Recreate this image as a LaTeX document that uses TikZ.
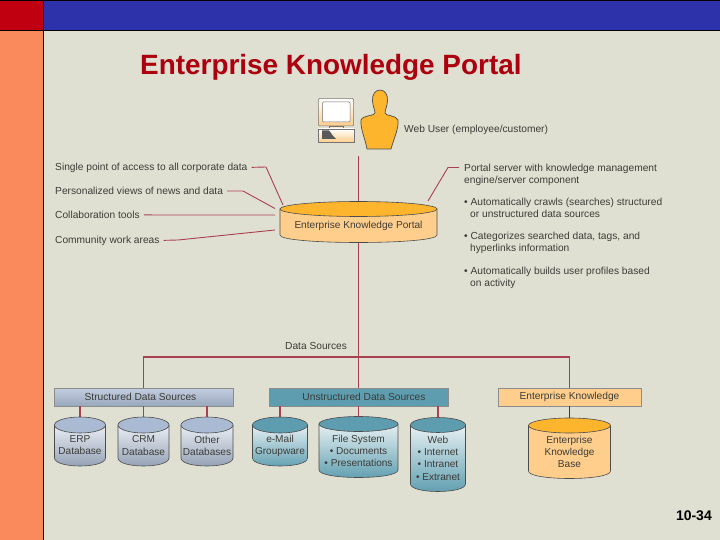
\documentclass[tikz,border=0pt]{standalone}
\usepackage{fontspec}
\setmainfont{Liberation Sans}
\definecolor{slidebg}{HTML}{E0E0D2}
\definecolor{slidered}{HTML}{C00010}
\definecolor{slideblue}{HTML}{2D32AA}
\definecolor{slideorange}{HTML}{FA8A5C}
\definecolor{linkred}{HTML}{A8404F}
\definecolor{inktext}{HTML}{3C3C38}
\definecolor{amber}{HTML}{FDB52E}
\definecolor{peach}{HTML}{FFCE8C}
\definecolor{steelcap}{HTML}{AABAD2}
\definecolor{tealcap}{HTML}{5D9DAF}
\tikzset{
  lbl/.style={anchor=north west,inner sep=0pt,align=left,text=inktext,font=\fontsize{10.2}{12.1}\selectfont},
  cyltext/.style={inner sep=0pt,align=center,text=inktext,font=\fontsize{10.1}{12.1}\selectfont},
  hdr/.style={draw=black!45,line width=0.5pt,inner sep=0pt,minimum height=18pt,text=inktext,font=\fontsize{10.2}{12}\selectfont},
  link/.style={draw=linkred,line width=1.2pt},
  callout/.style={draw=linkred,line width=0.9pt,shorten <=4pt},
  steelside/.style={top color=steelcap!25!white,bottom color=steelcap!85!black},
  tealside/.style={top color=tealcap!15!white,bottom color=tealcap},
  peachside/.style={fill=peach}
}
\newcommand{\dbcyl}[9]{%
  \pgfmathsetmacro{\cylmid}{(#2+#3)/2}
  \pgfmathsetmacro{\cylrad}{(#3-#2)/2}
  \pgfmathsetmacro{\cylbulge}{#5+#6*4/3}
  \pgfmathsetmacro{\cyltext}{(#4+#6+#5)/2}
  \path[#7,draw=black!70,line width=0.6pt] (#2,#4) -- (#2,#5) .. controls (#2,\cylbulge) and (#3,\cylbulge) .. (#3,#5) -- (#3,#4) -- cycle;
  \draw[fill=#8,draw=black!70,line width=0.6pt] (\cylmid,#4) ellipse [x radius=\cylrad pt,y radius=#6 pt];
  \node[cyltext] (#1) at (\cylmid,\cyltext) {#9};
  \coordinate (#1top) at (\cylmid,#4-#6);
  \coordinate (#1bot) at (\cylmid,#5+#6);
}
\begin{document}
\begin{tikzpicture}[x=1pt,y=-1pt]
\useasboundingbox (0,0) rectangle (720,540);
\fill[slidebg] (0,0) rectangle (720,540);
\fill[slideorange] (0,30) rectangle (43,540);
\fill[slidered] (0,0) rectangle (43,30);
\fill[slideblue] (43,0) rectangle (720,30);
\draw[black,line width=0.8pt] (0,0.4) -- (720,0.4);
\draw[black,line width=0.8pt] (0,30) -- (720,30);
\draw[black,line width=0.8pt] (43,0) -- (43,540);
\node[anchor=base west,inner sep=0pt,text=slidered!90!black,font=\fontsize{27.9}{30}\selectfont\bfseries] (title) at (140,75) {Enterprise Knowledge Portal};
\node[anchor=base east,inner sep=0pt,text=black,font=\fontsize{14}{16}\selectfont\bfseries] (pagenum) at (712,520) {10-34};

\shade[top color=white,bottom color=peach,draw=black!55,line width=0.5pt,rounded corners=1pt] (318.5,98.5) rectangle (353.5,126);
\fill[white,draw=black!55,line width=0.5pt,rounded corners=1pt] (322.5,102) rectangle (350,122);
\draw[black!55,line width=0.5pt,fill=peach!50] (329,126) rectangle (343,128.5);
\shade[top color=white,bottom color=peach,draw=black!55,line width=0.5pt] (318.5,129) rectangle (354,142);
\fill[black!65] (322,130.5) -- (329,130.5) -- (331,133) -- (333,136) -- (336,139) -- (322,139) -- cycle;
\draw[fill=amber,draw=black!70,line width=0.7pt] (380,90) .. controls (385,90) and (388,95) .. (387.5,101) .. controls (387,107) and (385,110) .. (385,113) .. controls (385,116) and (396,115) .. (398,120) .. controls (399,128) and (394,138) .. (391,149) -- (367,149) .. controls (365,138) and (360,128) .. (361,120) .. controls (363,115) and (375,116) .. (375,113) .. controls (375,110) and (373,107) .. (372.5,101) .. controls (372,95) and (375,90) .. (380,90) -- cycle;
\node[lbl] (weblbl) at (404,124.5) {Web User (employee/customer)};
\coordinate (userfoot) at (358.5,156);

\dbcyl{portal}{280}{437}{209}{235}{7.5}{peachside}{amber}{Enterprise Knowledge Portal}
\dbcyl{erp}{54.5}{105.5}{425}{458}{8}{steelside}{steelcap}{ERP\\Database}
\dbcyl{crm}{118}{169}{425}{458}{8}{steelside}{steelcap}{CRM\\Database}
\dbcyl{other}{181}{233}{425}{458}{8}{steelside}{steelcap}{Other\\Databases}
\dbcyl{email}{252.5}{307.5}{425}{458}{8}{tealside}{tealcap}{e-Mail\\Groupware}
\dbcyl{filesys}{319}{398}{424}{470}{7.5}{tealside}{tealcap}{File System\\• Documents\\• Presentations}
\dbcyl{webdb}{410.5}{465.5}{425}{484}{7.5}{tealside}{tealcap}{Web\\• Internet\\• Intranet\\• Extranet}
\dbcyl{ekb}{528.5}{610.5}{425.5}{471}{7.5}{peachside}{amber}{Enterprise\\Knowledge\\Base}

\node[hdr,top color=steelcap!70!white,bottom color=steelcap!90!black,minimum width=179pt] (structhdr) at (143.5,397) {Structured Data Sources\hspace*{6pt}};
\node[hdr,fill=tealcap,minimum width=179pt] (unstructhdr) at (358.5,397) {\hspace*{11pt}Unstructured Data Sources};
\node[hdr,fill=peach,minimum width=143pt] (knowhdr) at (569.5,397) {Enterprise Knowledge};

\coordinate (busmid) at (358.5,357);
\coordinate (busleft) at (143.5,357);
\coordinate (busright) at (569.5,357);
\draw[link] (userfoot) -- (portaltop);
\draw[link] (portalbot) -- (unstructhdr.north);
\draw[link,line width=1.6pt] (structhdr.north) -- (busleft) -- (busright) -- (knowhdr.north);
\draw[link] (structhdr.south -| erptop) -- (erptop);
\draw[link] (structhdr.south -| crmtop) -- (crmtop);
\draw[link] (structhdr.south -| othertop) -- (othertop);
\draw[link] (unstructhdr.south -| emailtop) -- (emailtop);
\draw[link] (unstructhdr.south) -- (filesystop);
\draw[link] (unstructhdr.south -| webdbtop) -- (webdbtop);
\draw[link,draw=linkred!60!black] (knowhdr.south) -- (ekbtop);
\node[lbl] (datalbl) at (285,342) {Data Sources};

\node[lbl] (singlelbl) at (55,162.5) {Single point of access to all corporate data};
\node[lbl] (viewslbl) at (55,187) {Personalized views of news and data};
\node[lbl] (toolslbl) at (55,211) {Collaboration tools};
\node[lbl] (arealbl) at (55,235.5) {Community work areas};
\coordinate (singlebend) at (266,167);
\coordinate (singleend) at (283,205);
\coordinate (viewsbend) at (243,191);
\coordinate (viewsend) at (275,208.5);
\coordinate (toolsend) at (275,215);
\coordinate (areabend) at (178,240);
\coordinate (areaend) at (275,230);
\draw[callout] (singlelbl.east) -- (singlebend) -- (singleend);
\draw[callout] (viewslbl.east) -- (viewsbend) -- (viewsend);
\draw[callout] (toolslbl.east) -- (toolsend);
\draw[callout] (arealbl.east) -- (areabend) -- (areaend);

\node[lbl] (serverlbl) at (464,164) {Portal server with knowledge management\\engine/server component};
\node[lbl] (crawllbl) at (464,198) {• Automatically crawls (searches) structured\\\hspace*{6pt}or unstructured data sources};
\node[lbl] (catlbl) at (464,232) {• Categorizes searched data, tags, and\\\hspace*{6pt}hyperlinks information};
\node[lbl] (buildlbl) at (464,266.5) {• Automatically builds user profiles based\\\hspace*{6pt}on activity};
\coordinate (serverstart) at (459,167.5);
\coordinate (serverbend) at (448,167.5);
\coordinate (serverend) at (428,201);
\draw[callout,shorten <=0pt] (serverstart) -- (serverbend) -- (serverend);
\end{tikzpicture}
\end{document}
